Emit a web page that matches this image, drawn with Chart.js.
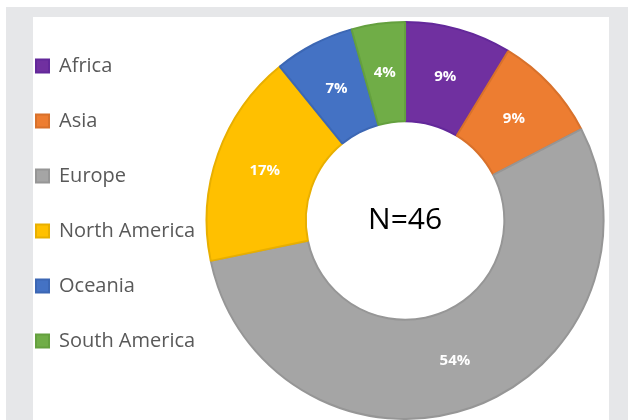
<!DOCTYPE html>
<html>
<head>
<meta charset="utf-8">
<script src="https://cdn.jsdelivr.net/npm/chart.js@4"></script>
<style>
  html, body { margin: 0; padding: 0; background: #fff; }
  body { width: 628px; height: 420px; overflow: hidden; position: relative; }
  #cadre { position: absolute; left: 6px; top: 7px; width: 622px; height: 420px; background: #e6e7e9; }
  #panneau { position: absolute; left: 33px; top: 17px; width: 576px; height: 410px; background: #fff; }
  #donut { position: absolute; left: 1px; top: 21px; }
</style>
</head>
<body>
<div id="cadre"></div>
<div id="panneau"></div>
<canvas id="donut" width="604" height="399"></canvas>
<script>
const regions = ["Africa", "Asia", "Europe", "North America", "Oceania", "South America"];
const nombres = [4, 4, 25, 8, 3, 2];
const couleurs = ["#7030a0", "#ed7d31", "#a5a5a5", "#ffc000", "#4472c4", "#70ad47"];
const bordures = ["#63289a", "#d8712b", "#969696", "#e8af00", "#3c67b4", "#64a03e"];
const texteCentre = "N=46";

const total = nombres.reduce((a, b) => a + b, 0);

const etiquettes = {
  id: "etiquettes",
  afterDatasetsDraw(chart) {
    const ctx = chart.ctx;
    const meta = chart.getDatasetMeta(0);
    ctx.save();
    ctx.fillStyle = "#ffffff";
    ctx.font = "bold 15px 'Open Sans'";
    ctx.textAlign = "center";
    ctx.textBaseline = "middle";
    meta.data.forEach((arc, i) => {
      const p = arc.getCenterPoint();
      ctx.fillText(Math.round(nombres[i] / total * 100) + "%", p.x, p.y);
    });
    const c = meta.data[0];
    ctx.fillStyle = "#000000";
    ctx.font = "30px 'Open Sans'";
    ctx.fillText(texteCentre, c.x, c.y);
    ctx.restore();
  }
};

new Chart(document.getElementById("donut"), {
  type: "doughnut",
  data: {
    labels: regions,
    datasets: [{
      data: nombres,
      backgroundColor: couleurs,
      borderColor: bordures,
      borderWidth: 2,
      hoverOffset: 0
    }]
  },
  options: {
    responsive: false,
    animation: false,
    cutout: "50%",
    layout: { padding: 0 },
    plugins: {
      tooltip: { enabled: false },
      legend: {
        position: "left",
        align: "start",
        maxWidth: 205,
        labels: {
          boxWidth: 13,
          boxHeight: 13,
          padding: 35,
          color: "#595959",
          font: { family: "'Open Sans'", size: 20 }
        }
      }
    }
  },
  plugins: [etiquettes]
});
</script>
</body>
</html>
